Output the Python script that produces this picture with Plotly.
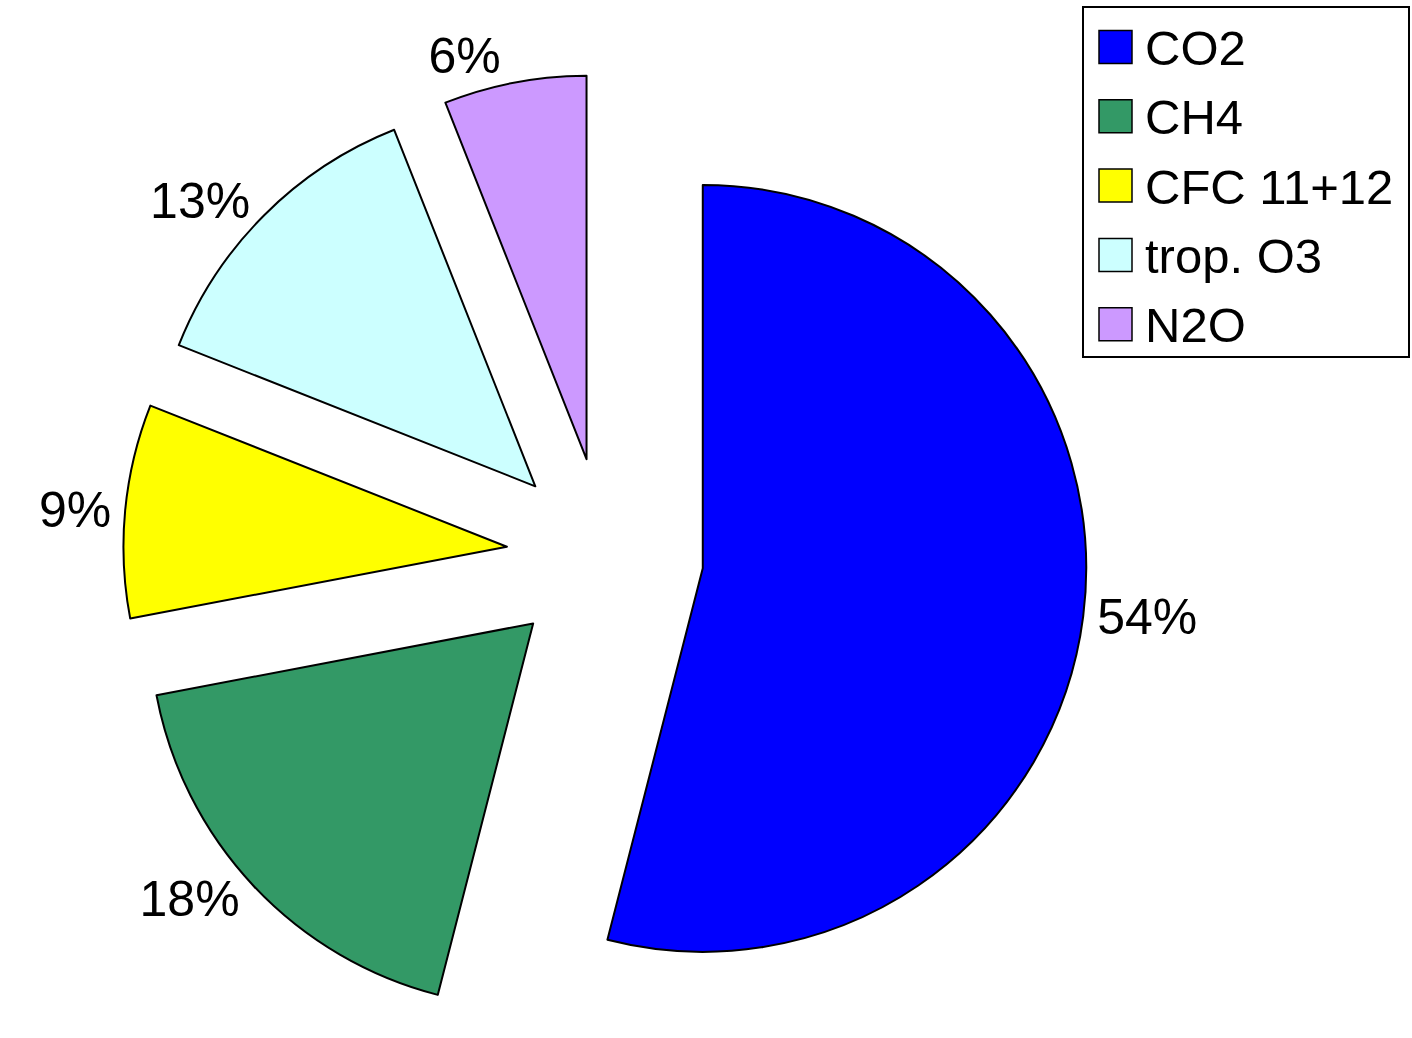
import plotly.graph_objects as go

# Greenhouse gas shares
gases = ["CO2", "CH4", "CFC 11+12", "trop. O3", "N2O"]
shares = [54, 18, 9, 13, 6]
slice_colors = ["#0000FF", "#339966", "#FFFF00", "#CCFFFF", "#CC99FF"]

W, H = 1412, 1038
FONT = "Liberation Sans, Arial, sans-serif"

pull = 0.257
R = 482              # outer reach of the exploded pie (radius incl. pull), px
cx_px = 605          # horizontal centre of the pie
cy_px = H - R        # pie sits on the bottom edge of the canvas

fig = go.Figure(
    go.Pie(
        labels=gases,
        values=shares,
        sort=False,
        direction="clockwise",
        rotation=0,
        pull=[pull] * len(shares),
        marker=dict(colors=slice_colors, line=dict(color="#000000", width=2)),
        textinfo="percent",
        textposition="outside",
        texttemplate="%{percent:.0%}",
        outsidetextfont=dict(family=FONT, size=50, color="#000000"),
        automargin=False,
        showlegend=False,
        domain=dict(
            x=[(cx_px - R) / W, (cx_px + R) / W],
            y=[1 - (cy_px + R) / H, 1 - (cy_px - R) / H],
        ),
        hoverinfo="label+percent",
    )
)

# Boxed key in the top-right corner: colour swatch + gas name per entry
def px_x(x):
    return x / W


def px_y(y):
    return 1 - y / H


box_l, box_r, box_t, box_b = 1083, 1409, 7, 357
row0, row_step = 47, 69.3
sw = 33

shapes = [
    dict(
        type="rect", xref="paper", yref="paper",
        x0=px_x(box_l), x1=px_x(box_r), y0=px_y(box_b), y1=px_y(box_t),
        line=dict(color="#000000", width=2), fillcolor="#FFFFFF", layer="above",
    )
]
annotations = []
for i, (name, col) in enumerate(zip(gases, slice_colors)):
    yc = row0 + i * row_step
    shapes.append(
        dict(
            type="rect", xref="paper", yref="paper",
            x0=px_x(1099), x1=px_x(1099 + sw),
            y0=px_y(yc + sw / 2), y1=px_y(yc - sw / 2),
            line=dict(color="#000000", width=1.5), fillcolor=col, layer="above",
        )
    )
    annotations.append(
        dict(
            xref="paper", yref="paper", x=px_x(1143), y=px_y(yc + 1),
            xanchor="left", yanchor="middle", showarrow=False,
            text=name, font=dict(family=FONT, size=49, color="#000000"),
        )
    )

fig.update_layout(
    width=W,
    height=H,
    margin=dict(l=0, r=0, t=0, b=0, autoexpand=False),
    paper_bgcolor="#FFFFFF",
    plot_bgcolor="#FFFFFF",
    font=dict(family=FONT, color="#000000"),
    showlegend=False,
    shapes=shapes,
    annotations=annotations,
)

fig.write_html("out.html")
